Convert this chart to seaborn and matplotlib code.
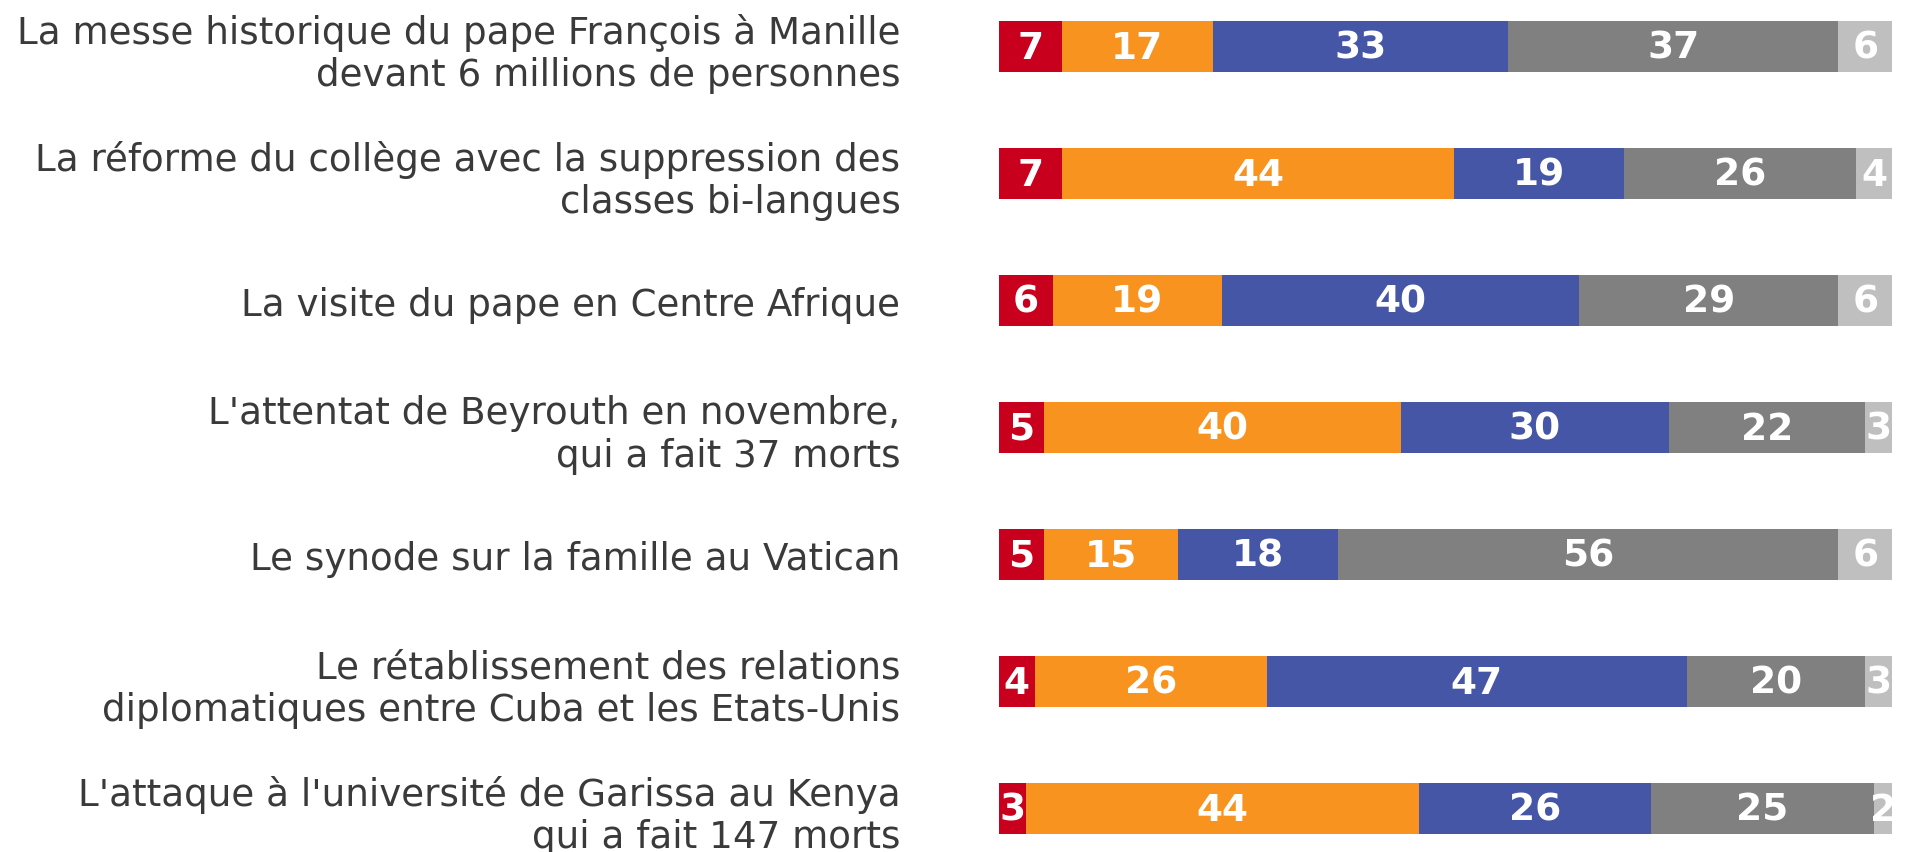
import matplotlib
matplotlib.use('Agg')
import matplotlib.pyplot as plt
import seaborn as sns
import pandas as pd
import numpy as np

sns.set_theme(style='white')
plt.rcParams['font.family'] = ['DejaVu Sans']

# données
events = [
    "La messe historique du pape François à Manille\ndevant 6 millions de personnes",
    "La réforme du collège avec la suppression des\nclasses bi-langues",
    "La visite du pape en Centre Afrique",
    "L'attentat de Beyrouth en novembre,\nqui a fait 37 morts",
    "Le synode sur la famille au Vatican",
    "Le rétablissement des relations\ndiplomatiques entre Cuba et les Etats-Unis",
    "L'attaque à l'université de Garissa au Kenya\nqui a fait 147 morts",
]
seg1 = [7, 7, 6, 5, 5, 4, 3]
seg2 = [17, 44, 19, 40, 15, 26, 44]
seg3 = [33, 19, 40, 30, 18, 47, 26]
seg4 = [37, 26, 29, 22, 56, 20, 25]
seg5 = [6, 4, 6, 3, 6, 3, 2]

colors = ['#C8001E', '#F7931E', '#4656A6', '#808080', '#BFBFBF']

series = [seg1, seg2, seg3, seg4, seg5]
cum = np.cumsum(np.array(series), axis=0)

fig = plt.figure(figsize=(19.07, 8.53), dpi=100)
ax = fig.add_axes([999 / 1907, 0, 893 / 1907, 1])

# barres empilées : on dessine les cumuls du plus grand au plus petit
for i in range(len(series) - 1, -1, -1):
    df = pd.DataFrame({'event': events, 'val': cum[i]})
    sns.barplot(data=df, x='val', y='event', orient='h', color=colors[i],
                width=0.4, saturation=1, edgecolor='none', linewidth=0, ax=ax)

# étiquettes des valeurs
for i, s in enumerate(series):
    for j, v in enumerate(s):
        ax.text(cum[i][j] - v / 2, j + 0.01, str(v), ha='center', va='center',
                color='white', fontsize=27, fontweight='bold', clip_on=True)

ax.set_xlim(0, 100)
ax.set_ylim(6.343, -0.374)
ax.set_xlabel('')
ax.set_ylabel('')
ax.set_xticks([])
ax.tick_params(axis='y', length=0, pad=71, labelsize=26.8, labelcolor='#3a3a3a')
for lab in ax.get_yticklabels():
    lab.set_linespacing(1.18)
for sp in ax.spines.values():
    sp.set_visible(False)

fig.savefig('out.png', dpi=100)
